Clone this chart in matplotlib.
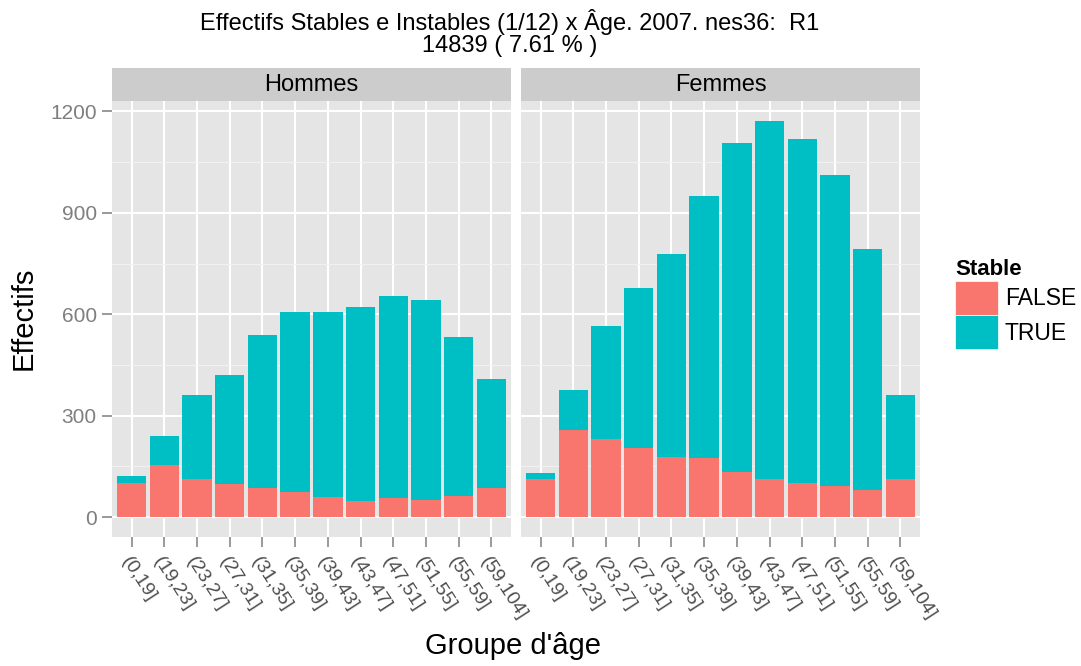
import matplotlib.pyplot as plt
import matplotlib.patches as mpatches
import numpy as np

plt.rcParams['font.family'] = ['Liberation Sans', 'DejaVu Sans']

# data
groupes = ["(0,19]", "(19,23]", "(23,27]", "(27,31]", "(31,35]", "(35,39]",
           "(39,43]", "(43,47]", "(47,51]", "(51,55]", "(55,59]", "(59,104]"]
hommes_total = [121, 241, 361, 419, 539, 606, 606, 621, 655, 641, 533, 408]
hommes_false = [102, 155, 112, 98, 85, 74, 59, 47, 57, 51, 63, 86]
femmes_total = [132, 376, 566, 677, 778, 951, 1107, 1172, 1118, 1012, 794, 360]
femmes_false = [113, 257, 231, 204, 179, 176, 134, 113, 101, 91, 81, 113]

c_false = "#F8766D"
c_true = "#00BFC4"
grey_txt = "#7F7F7F"

fig = plt.figure(figsize=(10.81, 6.66), dpi=100)
W, H = 1081, 666
panels = [("Hommes", hommes_false, hommes_total, 112),
          ("Femmes", femmes_false, femmes_total, 521)]
x = np.arange(1, len(groupes) + 1)

for i, (nom, f, tot, left) in enumerate(panels):
    ax = fig.add_axes([left / W, 1 - 537 / H, 399 / W, (537 - 101) / H])
    ax.set_facecolor("#E5E5E5")
    f = np.array(f)
    t = np.array(tot) - f
    ax.bar(x, f, width=0.9, color=c_false, zorder=3)
    ax.bar(x, t, bottom=f, width=0.9, color=c_true, zorder=3)
    ax.set_xlim(0.4, 12.6)
    ax.set_ylim(-58.6, 1230.6)
    ax.set_yticks([0, 300, 600, 900, 1200])
    ax.set_yticks([150, 450, 750, 1050], minor=True)
    ax.set_xticks(x)
    ax.set_xticklabels(groupes, rotation=-57, ha="left", va="top",
                       rotation_mode="anchor", fontsize=14, color="#4D4D4D")
    ax.grid(True, which="major", color="white", linewidth=1.5, zorder=0)
    ax.grid(True, which="minor", axis="y", color="#F2F2F2", linewidth=0.7, zorder=0)
    ax.tick_params(axis="x", which="major", length=7, color=grey_txt, width=1.1, pad=5)
    ax.tick_params(axis="y", which="minor", length=0)
    if i == 0:
        ax.tick_params(axis="y", which="major", length=7, color=grey_txt, width=1.1,
                       labelsize=15, labelcolor=grey_txt, pad=4)
    else:
        ax.tick_params(axis="y", which="major", length=0, labelleft=False)
    for s in ax.spines.values():
        s.set_visible(False)
    # strip
    sax = fig.add_axes([left / W, 1 - 101 / H, 399 / W, 33 / H])
    sax.set_facecolor("#CCCCCC")
    sax.set_xticks([])
    sax.set_yticks([])
    for s in sax.spines.values():
        s.set_visible(False)
    sax.text(0.5, 0.48, nom, ha="center", va="center", fontsize=17, transform=sax.transAxes)

fig.text(510 / W, 1 - 22 / H, "Effectifs Stables e Instables (1/12) x Âge. 2007. nes36:  R1",
         ha="center", va="center", fontsize=17)
fig.text(510 / W, 1 - 46 / H, "14839 ( 7.61 % )", ha="center", va="center", fontsize=17)
fig.text(24 / W, 1 - 318 / H, "Effectifs", rotation=90, ha="center", va="center", fontsize=21)
fig.text(513 / W, 1 - 646 / H, "Groupe d'âge", ha="center", va="center", fontsize=21)

handles = [mpatches.Patch(facecolor=c_false, edgecolor="white", linewidth=0.5, label="FALSE"),
           mpatches.Patch(facecolor=c_true, edgecolor="white", linewidth=0.5, label="TRUE")]
leg = fig.legend(handles=handles, title="Stable", loc="upper left",
                 bbox_to_anchor=(955 / W, 1 - 259 / H), frameon=False,
                 fontsize=16.5, handlelength=1.88, handleheight=1.88,
                 handletextpad=0.3, labelspacing=0.04, borderaxespad=0, borderpad=0)
leg.get_title().set_fontweight("bold")
leg.get_title().set_fontsize(16)
leg._legend_box.align = "left"

fig.savefig("out.png", dpi=100)
